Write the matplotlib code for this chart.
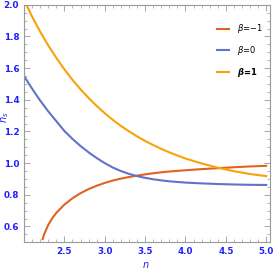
import numpy as np
import matplotlib.pyplot as plt
from matplotlib.ticker import MultipleLocator

# beta = -1
n_m1 = [2.23, 2.25, 2.3, 2.35, 2.4, 2.5, 2.6, 2.7, 2.8, 2.9, 3.0, 3.1, 3.2, 3.3, 3.4, 3.5,
        3.6, 3.7, 3.8, 3.9, 4.0, 4.2, 4.4, 4.6, 4.8, 5.0]
ns_m1 = [0.520, 0.552, 0.610, 0.652, 0.686, 0.738, 0.778, 0.810, 0.836, 0.857, 0.875, 0.890,
         0.902, 0.912, 0.921, 0.929, 0.936, 0.942, 0.947, 0.951, 0.955, 0.962, 0.968, 0.974,
         0.979, 0.983]

# beta = 0
n_0 = [2.0, 2.1, 2.2, 2.3, 2.4, 2.5, 2.6, 2.7, 2.8, 2.9, 3.0, 3.1, 3.2, 3.3, 3.4, 3.5,
       3.6, 3.7, 3.8, 3.9, 4.0, 4.2, 4.4, 4.6, 4.8, 5.0]
ns_0 = [1.550, 1.470, 1.395, 1.327, 1.265, 1.203, 1.153, 1.108, 1.068, 1.032, 1.000, 0.972,
        0.950, 0.932, 0.918, 0.907, 0.898, 0.891, 0.885, 0.881, 0.877, 0.872, 0.868, 0.865,
        0.863, 0.862]

# beta = 1
n_1 = [2.03, 2.1, 2.2, 2.3, 2.4, 2.5, 2.6, 2.7, 2.8, 2.9, 3.0, 3.1, 3.2, 3.3, 3.4, 3.5,
       3.6, 3.7, 3.8, 3.9, 4.0, 4.2, 4.4, 4.6, 4.8, 5.0]
ns_1 = [2.000, 1.925, 1.830, 1.743, 1.665, 1.592, 1.526, 1.466, 1.411, 1.361, 1.315, 1.273,
        1.235, 1.201, 1.169, 1.140, 1.114, 1.090, 1.068, 1.048, 1.029, 0.998, 0.971, 0.949,
        0.931, 0.918]

labels = [r'$\beta$=−1', r'$\beta$=0', r'$\boldsymbol{\beta}$=1']
colors = ['#e2621f', '#6173c8', '#f8a20a']

plt.rcParams['font.family'] = ['Liberation Sans Narrow', 'DejaVu Sans']
plt.rcParams['mathtext.fontset'] = 'custom'
plt.rcParams['mathtext.it'] = 'DejaVu Sans:italic'
plt.rcParams['mathtext.bfit'] = 'DejaVu Sans:italic:bold'

fig = plt.figure(figsize=(2.73, 2.73), dpi=100)
ax = fig.add_axes([0.088, 0.1125, 0.902, 0.87])

for x, y, lab, c in zip([n_m1, n_0, n_1], [ns_m1, ns_0, ns_1], labels, colors):
    ax.plot(x, y, color=c, lw=1.5, label=lab)

ax.set_xlim(2.0, 5.05)
ax.set_ylim(0.5, 2.0)
ax.xaxis.set_major_locator(MultipleLocator(0.5))
ax.xaxis.set_minor_locator(MultipleLocator(0.1))
ax.yaxis.set_major_locator(MultipleLocator(0.2))
ax.yaxis.set_minor_locator(MultipleLocator(0.05))
ax.set_xticks([2.5, 3.0, 3.5, 4.0, 4.5, 5.0])

ax.tick_params(which='both', direction='in', top=True, right=True, color='#999999',
               labelcolor='#2020ff', labelsize=6.3)
ax.tick_params(which='major', length=4, width=0.6)
ax.tick_params(which='minor', length=2, width=0.5)
for lbl in ax.get_xticklabels() + ax.get_yticklabels():
    lbl.set_fontweight('bold')
for s in ax.spines.values():
    s.set_color('#999999')
    s.set_linewidth(0.8)

ax.set_xlabel('n', fontstyle='italic', color='#2020ff', fontsize=7)
ax.xaxis.set_label_coords(0.494, -0.075)
ax.set_ylabel(r'$n_s$', color='#2020ff', fontsize=7)
ax.yaxis.set_label_coords(-0.052, 0.525)

leg = ax.legend(loc='upper right', bbox_to_anchor=(1.0, 0.957), frameon=False, fontsize=6,
                handlelength=1.5, labelspacing=1.05, handletextpad=0.9)
leg.get_texts()[2].set_fontweight('bold')

fig.savefig('out.png', dpi=100)
